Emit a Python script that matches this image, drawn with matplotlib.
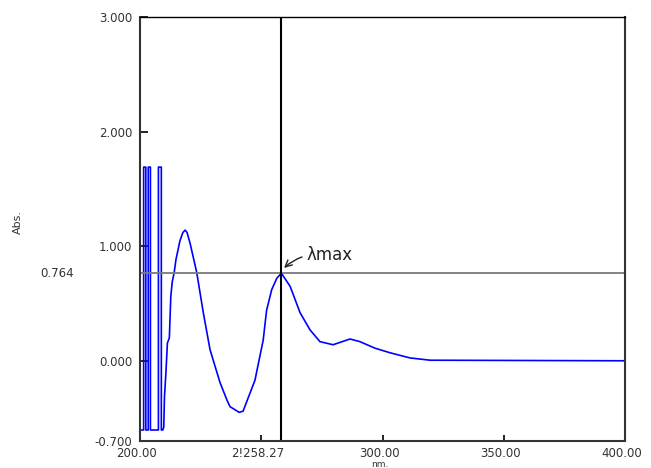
#UV spectrum with lambda max marker
import numpy as np
import matplotlib.pyplot as plt
import matplotlib.transforms as mtransforms

#noisy start of the scan (vertical spikes)
noise_wl = [200.0, 201.5, 201.5, 202.4, 202.4, 203.4, 203.4, 204.3, 204.3,
            207.6, 207.6, 208.8, 208.8]
noise_ab = [-0.604, -0.604, 1.69, 1.69, -0.604, -0.604, 1.69, 1.69, -0.604,
            -0.604, 1.69, 1.69, -0.604]

#main spectrum
curve_wl = [209.4, 209.8, 210.1, 210.7, 211.3, 212.1, 212.7, 213.3, 214.1, 214.8, 216.5,
            217.7, 218.6, 219.4, 220.6, 223.4, 226.1, 228.9, 233.0, 235.8, 237.1, 240.9,
            242.5, 245.4, 247.4, 250.8, 252.2, 254.3, 256.4, 258.3, 261.9, 266.0, 270.1,
            274.2, 279.6, 286.6, 290.7, 296.9, 303.1, 311.3, 319.6, 400.0]
curve_ab = [-0.604, -0.58, -0.31, -0.10, 0.155, 0.20, 0.56, 0.69, 0.77, 0.88, 1.05,
            1.12, 1.14, 1.12, 1.03, 0.77, 0.42, 0.095, -0.19, -0.34, -0.40, -0.45,
            -0.44, -0.28, -0.17, 0.18, 0.44, 0.62, 0.72, 0.764, 0.65, 0.42, 0.27,
            0.167, 0.14, 0.19, 0.167, 0.11, 0.07, 0.025, 0.005, 0.0]

lam_max = 258.27
abs_max = 0.764
xticks = [200, 250, 300, 350, 400]
xlabels = ['200.00', '2!258.27', '300.00', '350.00', '400.00']
yticks = [-0.7, 0, 1, 2, 3]
ylabels = ['-0.700', '0.000', '1.000', '2.000', '3.000']

wl = noise_wl + curve_wl
ab = noise_ab + curve_ab

fig = plt.figure(figsize=(6.51, 4.68), dpi=100)
ax = fig.add_axes([140/651, 27/468, 485/651, 424/468])

ax.plot(wl, ab, color='#0000ff', lw=1.2)
ax.axhline(abs_max, color='#7a7a7a', lw=1.3)
ax.axvline(lam_max, color='black', lw=1.5)

ax.set_xlim(200, 400)
ax.set_ylim(-0.7, 3.0)
ax.set_xticks(xticks)
ax.set_xticklabels(xlabels)
ax.set_yticks(yticks)
ax.set_yticklabels(ylabels)
ax.tick_params(axis='y', direction='in', length=6, width=1.2, pad=5.5,
               labelsize=8.5, labelcolor='#333333')
ax.tick_params(axis='x', direction='in', length=4, width=1.2, pad=4,
               labelsize=8.5, labelcolor='#333333')
#x labels sit a little left of their ticks in the original
shift = mtransforms.ScaledTranslation(-3.5/100, 0, fig.dpi_scale_trans)
for lab in ax.get_xticklabels():
    lab.set_transform(lab.get_transform() + shift)
for s in ['left', 'bottom', 'right']:
    ax.spines[s].set_linewidth(1.5)
    ax.spines[s].set_color('#333333')
ax.spines['top'].set_linewidth(1.0)

#labels outside the axes
trans = mtransforms.blended_transform_factory(ax.transAxes, ax.transData)
ax.text(-0.171, abs_max, '0.764', transform=trans, ha='center', va='center',
        fontsize=8.5, color='#333333')
ax.text(-0.2515, 1.21, 'Abs.', transform=trans, ha='center', va='center',
        rotation=90, fontsize=8, color='#333333')
fig.text(380/651, 1/468, 'nm.', ha='center', va='baseline', fontsize=6.5, color='#333333')

ax.annotate('λmax', xy=(259.4, 0.81), xytext=(268.5, 0.92),
            fontsize=12, color='#222222', va='center', ha='left',
            arrowprops=dict(arrowstyle='->', color='#222222', lw=1.0,
                            connectionstyle='arc3,rad=0.25', shrinkA=1, shrinkB=0))

fig.savefig('out.png', dpi=100)
